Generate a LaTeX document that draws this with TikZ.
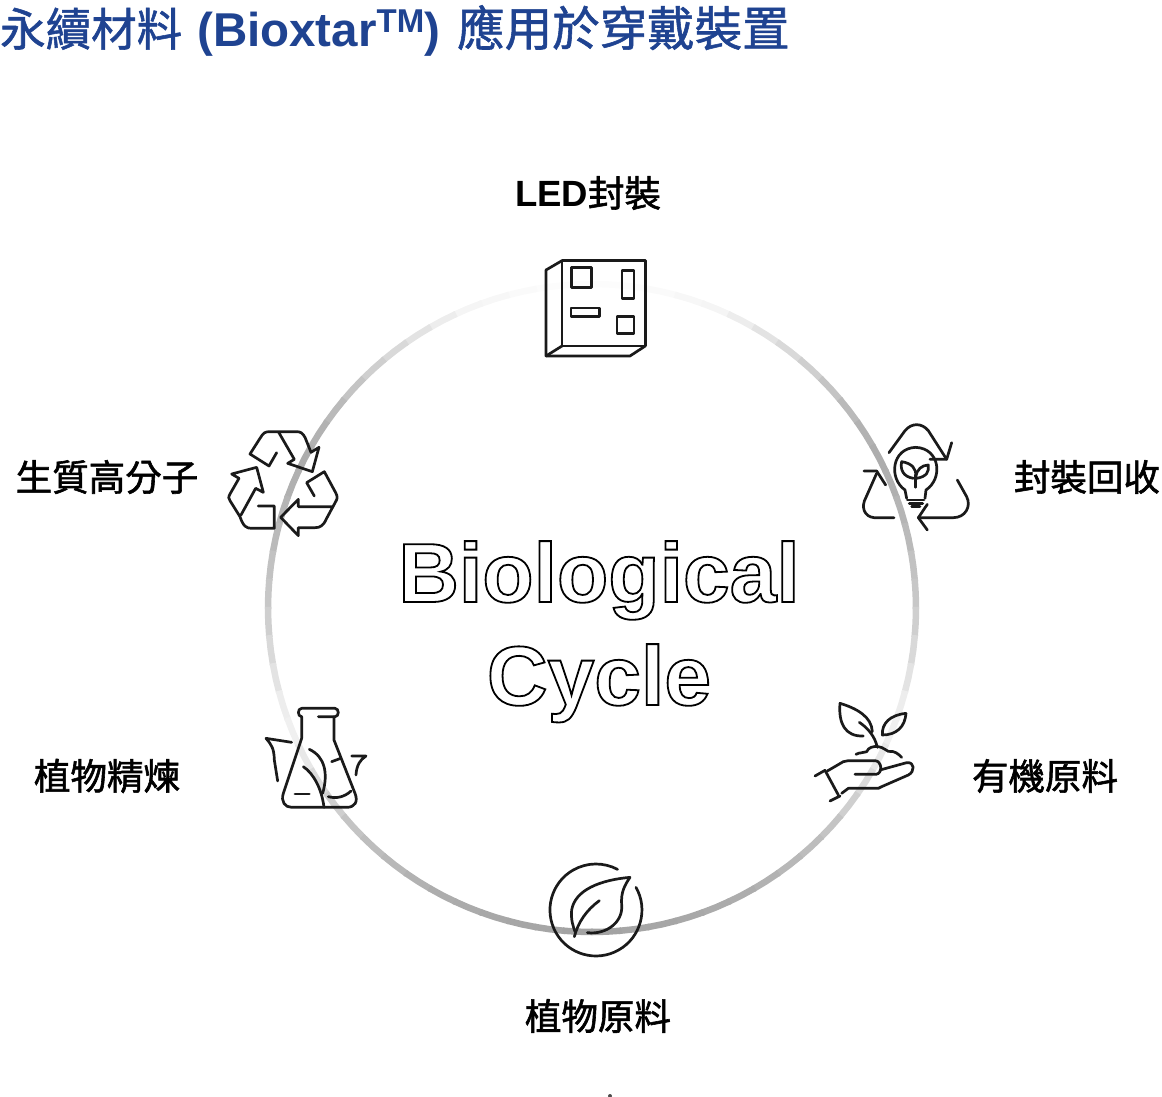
\documentclass[tikz,border=0pt]{standalone}
\usepackage{fontspec}
\setmainfont{Liberation Sans}
\newfontfamily\cjk[FakeBold=1.6]{Noto Sans CJK TC}
\newfontfamily\cjktitle[FakeBold=1.2]{Noto Sans CJK TC}
\definecolor{titleblue}{HTML}{1F4391}
\definecolor{ink}{HTML}{1A1A1A}
\tikzset{
  iconline/.style={draw=ink,line width=2.7pt,line cap=round,line join=round},
  labeltext/.style={inner sep=0pt,text=black,font=\cjk\fontsize{36.5}{40}\selectfont},
  titletext/.style={anchor=base west,inner sep=0pt,text=titleblue},
  iconframe/.style={x=0.3333pt,y=-0.3333pt},
  outlinetext/.style={inner sep=0pt,anchor=base,font=\bfseries\fontsize{84}{90}\selectfont}
}
\newcommand{\outlined}[1]{\special{pdf:code q 1 Tr 1.8 w}#1\special{pdf:code Q}}
\begin{document}
\begin{tikzpicture}[x=1pt,y=-1pt]
\useasboundingbox (0,0) rectangle (1162,1096);
% ring
\foreach \a/\v in {0/1,5/1,10/2,15/3,20/4,25/7,30/11,35/15,40/19,45/23,50/27,55/30,60/32,65/31,70/29,75/27,80/24,85/22,90/19,95/15,100/11,105/7,110/6,115/9,120/14,125/19,130/23,135/26,140/28,145/30,150/32,155/33,160/34,165/35,170/35,175/36}{
  \foreach \s in {1,-1}{
    \draw[black!\v,line width=6.5pt]
      ({592+\s*324*sin(\a-0.2)},{608-324*cos(\a-0.2)}) --
      ({592+\s*324*sin(\a+2.5)},{608-324*cos(\a+2.5)}) --
      ({592+\s*324*sin(\a+5.2)},{608-324*cos(\a+5.2)});
  }
}
% title
\node[titletext,font=\cjktitle\fontsize{45.5}{50}\selectfont] (title1) at (0,46) {永續材料};
\node[titletext,font=\bfseries\fontsize{47.5}{50}\selectfont] (title2) at (197,46) {(Bioxtar\raisebox{14pt}{\fontsize{33}{34}\selectfont TM})};
\node[titletext,font=\cjktitle\fontsize{47.5}{50}\selectfont] (title3) at (457,46) {應用於穿戴裝置};
% labels
\node[labeltext] (led) at (588,193) {{\fontspec{Liberation Sans}\bfseries\fontsize{36.5}{40}\selectfont LED}封裝};
\node[labeltext] (recyc) at (1087,477) {封裝回收};
\node[labeltext] (organic) at (1045,776) {有機原料};
\node[labeltext] (plant) at (598,1016) {植物原料};
\node[labeltext] (refine) at (107,776) {植物精煉};
\node[labeltext] (biopoly) at (107,477) {生質高分子};
% center text
\node[outlinetext] (bio) at (599,602) {\outlined{Biological}};
\node[outlinetext] (cycle) at (599,705) {\outlined{Cycle}};
% chip
\begin{scope}[shift={(520,240)},iconframe]
\draw[iconline] (126,62) -- (376,62) -- (376,318) -- (126,318) -- cycle;
\draw[iconline] (126,62) -- (78,90) -- (78,348) -- (330,348) -- (376,318);
\draw[iconline] (78,348) -- (126,318);
\draw[iconline] (155,82) rectangle (214,142);
\draw[iconline] (306,92) rectangle (342,176);
\draw[iconline] (153,204) rectangle (238,230);
\draw[iconline] (291,229) rectangle (342,280);
\end{scope}
% bulb
\begin{scope}[shift={(850,410)},iconframe]
\draw[iconline] (117,128) -- (165,62) .. controls (185,38) and (215,38) .. (235,62) -- (290,148);
\draw[iconline] (305,98) -- (290,148) -- (240,148);
\draw[iconline] (132,323) -- (72,323) .. controls (42,320) and (32,290) .. (48,262) -- (80,190);
\draw[iconline] (42,183) -- (80,183) -- (107,225);
\draw[iconline] (322,210) -- (350,260) .. controls (365,290) and (345,323) .. (310,323) -- (205,323);
\draw[iconline] (232,283) -- (205,323) -- (232,360);
\draw[iconline] (170,265) -- (165,240) .. controls (115,205) and (125,115) .. (197,112) .. controls (270,115) and (280,205) .. (228,240) -- (225,265);
\draw[iconline] (172,270) -- (222,270) (178,280) -- (218,280) (185,290) -- (210,290);
\draw[iconline] (197,232) -- (197,195);
\draw[iconline] (190,205) .. controls (160,200) and (150,180) .. (155,155) .. controls (185,160) and (200,175) .. (197,200);
\draw[iconline] (200,205) .. controls (230,200) and (238,185) .. (235,165) .. controls (215,165) and (200,180) .. (197,200);
\end{scope}
% hand
\begin{scope}[shift={(800,690)},iconframe]
\draw[iconline] (190,138) .. controls (135,140) and (115,100) .. (120,40) .. controls (170,55) and (215,80) .. (217,125);
\draw[iconline] (178,97) .. controls (205,115) and (225,140) .. (232,172);
\draw[iconline] (318,70) .. controls (270,75) and (245,100) .. (247,135) .. controls (290,135) and (315,110) .. (318,70);
\draw[iconline] (168,193) .. controls (180,186) and (190,190) .. (200,185) .. controls (205,172) and (220,168) .. (235,170) .. controls (250,172) and (255,180) .. (265,184) .. controls (285,182) and (295,192) .. (305,202);
\draw[iconline] (45,258) -- (75,241) -- (115,315) (90,333) -- (120,318);
\draw[iconline] (82,243) -- (130,215) -- (145,212) -- (225,212) .. controls (245,212) and (250,250) .. (228,253) -- (165,253);
\draw[iconline] (240,240) -- (320,218) .. controls (345,215) and (345,245) .. (325,255) -- (245,290) -- (235,295) -- (145,295) -- (125,310);
\end{scope}
% leaf
\begin{scope}[shift={(530,850)},iconframe]
\draw[iconline] (318,112) arc[start angle=-29.5,end angle=298,radius=138];
\draw[iconline] (135,245) .. controls (130,230) and (122,210) .. (125,180) .. controls (135,120) and (210,90) .. (300,82) .. controls (285,105) and (272,125) .. (275,165) .. controls (280,215) and (230,255) .. (172,248);
\draw[iconline] (133,260) .. controls (145,215) and (170,180) .. (208,152);
\end{scope}
% flask
\begin{scope}[shift={(250,695)},iconframe]
\draw[iconline] (205,65) -- (255,65) .. controls (268,65) and (268,40) .. (255,40) -- (155,40) .. controls (142,40) and (142,65) .. (155,65);
\draw[iconline] (155,65) -- (155,130) -- (100,295) .. controls (92,320) and (105,337) .. (125,337) -- (290,337) .. controls (315,337) and (325,320) .. (315,295) -- (252,135) -- (252,65);
\draw[iconline] (245,200) -- (272,190);
\draw[iconline] (135,297) -- (178,297);
\draw[iconline] (235,305) .. controls (260,312) and (285,305) .. (303,288);
\draw[iconline] (178,163) .. controls (225,185) and (235,235) .. (218,295);
\draw[iconline] (160,215) .. controls (190,235) and (215,280) .. (222,337);
\draw[iconline] (125,142) -- (48,130) .. controls (65,150) and (72,160) .. (73,195) -- (83,258);
\draw[iconline] (305,183) -- (348,183) .. controls (330,195) and (320,210) .. (318,240);
\end{scope}
% recycle
\begin{scope}[shift={(215,420)},iconframe]
\draw[iconline] (185,98) -- (162,138) -- (105,102) -- (135,55) .. controls (145,38) and (150,35) .. (165,35) -- (245,35) .. controls (258,35) and (263,40) .. (270,52) -- (288,97) -- (312,82) -- (292,155) -- (218,130) -- (238,118) -- (190,35);
\draw[iconline] (72,175) -- (50,162) -- (125,142) -- (145,217) -- (122,205) -- (78,285);
\draw[iconline] (72,175) -- (45,222) .. controls (40,232) and (40,235) .. (45,242) -- (75,290) .. controls (85,320) and (95,325) .. (110,325) -- (178,325) -- (178,258) -- (130,258);
\draw[iconline] (298,228) -- (275,188) -- (328,155) -- (362,218) .. controls (368,230) and (368,235) .. (362,245) -- (335,295) .. controls (325,318) and (315,323) .. (300,323) -- (250,323) -- (250,347) -- (197,292) -- (250,238) -- (250,260) -- (355,260);
\end{scope}
% speck at the lower edge
\node[fill=black!70,circle,inner sep=0pt,minimum size=4pt] (speck) at (610,1096) {};
\end{tikzpicture}
\end{document}
